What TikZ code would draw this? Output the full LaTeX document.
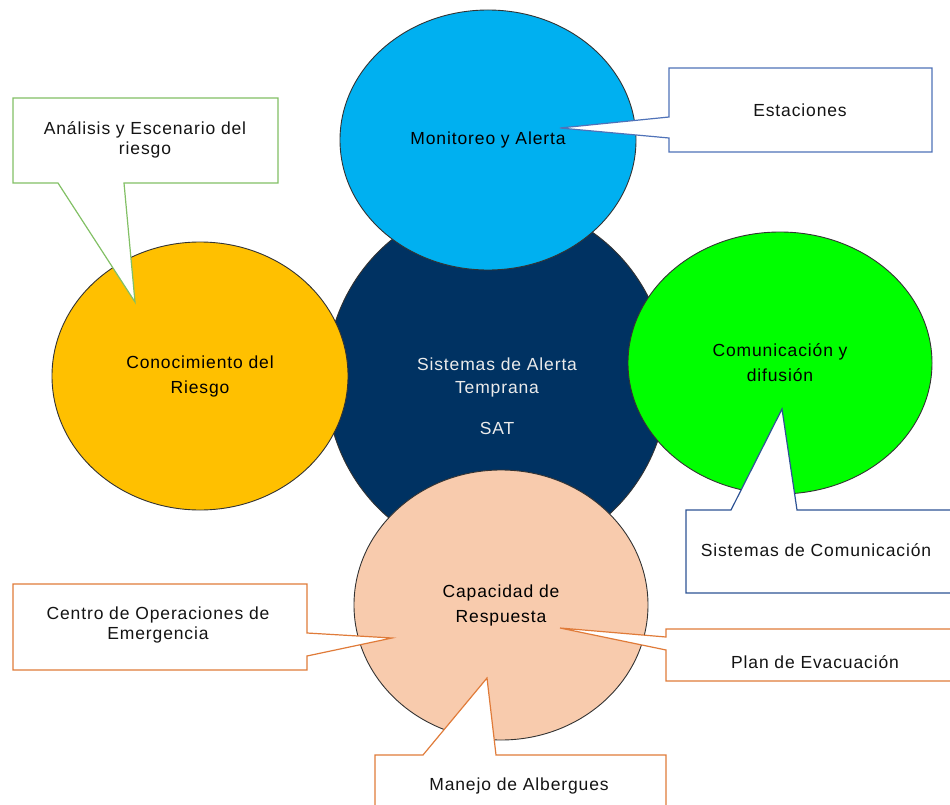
\documentclass[tikz,border=0pt]{standalone}
\usepackage{fontspec}
\setmainfont{Liberation Sans}[LetterSpace=5]
\usetikzlibrary{shapes.geometric,positioning}
\definecolor{azulsat}{HTML}{003262}
\definecolor{celeste}{HTML}{00B0F0}
\definecolor{ambar}{HTML}{FFC000}
\definecolor{verdefuerte}{HTML}{00FF00}
\definecolor{durazno}{HTML}{F8CBAD}
\definecolor{bordeverde}{HTML}{82C065}
\definecolor{bordeazul}{HTML}{4F72B8}
\definecolor{bordemarino}{HTML}{2E5395}
\definecolor{bordenaranja}{HTML}{E07B39}

\begin{document}
\begin{tikzpicture}[x=1pt,y=-1pt,
  burbuja/.style={ellipse,draw=black!80,line width=0.9pt,inner sep=0pt,
    align=center,font=\fontsize{17.5}{25}\selectfont,text=black},
  globo/.style={fill=white,line width=1.2pt,line join=miter},
  texto/.style={align=center,font=\fontsize{17.5}{20}\selectfont,text=black!92}]
  \useasboundingbox (0,0) rectangle (950,805);

  % circulos
  \node[burbuja,fill=azulsat,minimum width=342,minimum height=356] (sat) at (497,380) {};
  \node[texto,text=black!8,font=\fontsize{17.5}{23}\selectfont]
    (sattxt) at (497,396) {Sistemas de Alerta\\Temprana\\[18pt]SAT};
  \node[burbuja,fill=celeste,minimum width=296,minimum height=260] (monitoreo) at (488,140) {Monitoreo y Alerta};
  \node[burbuja,fill=ambar,minimum width=296,minimum height=268] (conocimiento) at (200,376) {Conocimiento del\\Riesgo};
  \node[burbuja,fill=verdefuerte,minimum width=304,minimum height=262] (comunicacion) at (780,363) {Comunicación y\\difusión};
  \node[burbuja,fill=durazno,minimum width=294,minimum height=270] (capacidad) at (501,605) {Capacidad de\\Respuesta};

  % globos
  \filldraw[globo,draw=bordeverde] (13,98) -- (278,98) -- (278,183) -- (124,183)
    -- (135,302) -- (58,183) -- (13,183) -- cycle;
  \node[texto] (analisis) at (145,140) {Análisis y Escenario del\\riesgo};

  \filldraw[globo,draw=bordeazul] (669,68) -- (932,68) -- (932,152) -- (669,152)
    -- (669,138) -- (560,128) -- (669,117) -- cycle;
  \node[texto] (estaciones) at (800,110) {Estaciones};

  \filldraw[globo,draw=bordemarino] (686,510) -- (731,510) -- (782,409) -- (797,510)
    -- (955,510) -- (955,593) -- (686,593) -- cycle;
  \node[texto] (sistemas) at (816,550) {Sistemas de Comunicación};

  \filldraw[globo,draw=bordenaranja] (13,584) -- (307,584) -- (307,633) -- (392,638)
    -- (307,656) -- (307,670) -- (13,670) -- cycle;
  \node[texto] (centro) at (158,625) {Centro de Operaciones de\\Emergencia};

  \filldraw[globo,draw=bordenaranja] (666,629) -- (955,629) -- (955,681) -- (666,681)
    -- (666,650) -- (560,628) -- (666,637) -- cycle;
  \node[texto] (plan) at (815,662) {Plan de Evacuación};

  \filldraw[globo,draw=bordenaranja] (375,755) -- (423,755) -- (487,678) -- (496,755)
    -- (666,755) -- (666,812) -- (375,812) -- cycle;
  \node[texto] (manejo) at (519,786) {Manejo de Albergues};
\end{tikzpicture}
\end{document}
